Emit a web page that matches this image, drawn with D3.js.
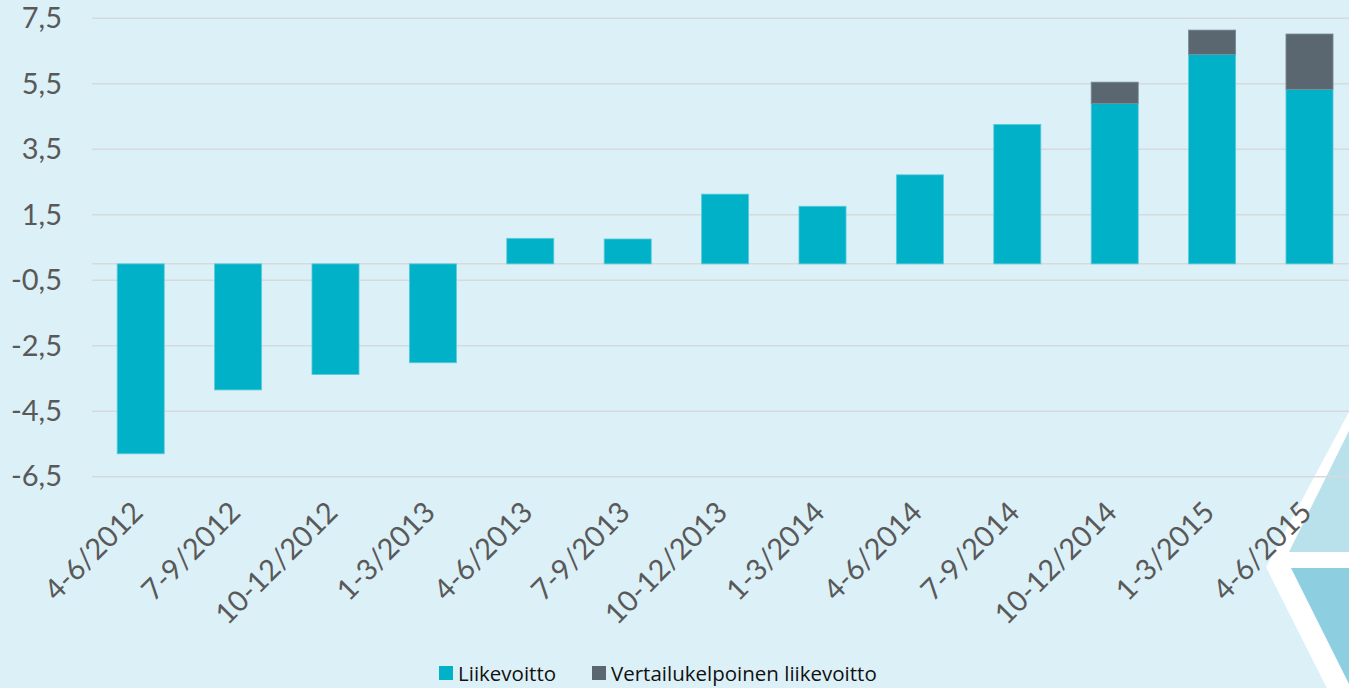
<!DOCTYPE html>
<html lang="fi">
<head>
    <meta charset="UTF-8">
    <title>Liikevoitto</title>
    <script src="https://d3js.org/d3.v7.min.js"></script>
    <style>
        * {
            margin: 0;
            padding: 0;
            box-sizing: border-box;
        }

        html, body {
            width: 1349px;
            height: 688px;
            overflow: hidden;
            background: #dcf0f7;
        }

        svg {
            display: block;
        }
    </style>
</head>
<body>
<svg id="chart" width="1349" height="688"></svg>
<script>
    const quarters = [ "4-6/2012", "7-9/2012", "10-12/2012", "1-3/2013", "4-6/2013", "7-9/2013",
        "10-12/2013", "1-3/2014", "4-6/2014", "7-9/2014", "10-12/2014", "1-3/2015", "4-6/2015" ]
    const liikevoitto = [ -5.80, -3.85, -3.38, -3.02, 0.78, 0.76, 2.13, 1.76, 2.72, 4.26, 4.90, 6.40, 5.33 ]
    // extra on top of liikevoitto -> vertailukelpoinen
    const vertailukelpoinen = [ 0, 0, 0, 0, 0, 0, 0, 0, 0, 0, 0.65, 0.74, 1.69 ]
    const yTicks = [ 7.5, 5.5, 3.5, 1.5, -0.5, -2.5, -4.5, -6.5 ]
    const seriesNames = [ "Liikevoitto", "Vertailukelpoinen liikevoitto" ]
    const colors = [ "#00b1c8", "#5a6770" ]

    const W = 1349, H = 688
    const left = 92, step = 97.4
    const svg = d3.select("#chart")

    // background decoration (bottom right corner)
    const deco = svg.append("g")
    deco.append("polygon")
        .attr("points", "1380,354 1266,567 1380,794")
        .attr("fill", "#ffffff")
    deco.append("polygon")
        .attr("points", "1380,368 1289,552 1380,552")
        .attr("fill", "#b9e1eb")
    deco.append("polygon")
        .attr("points", "1291,568 1380,568 1380,746")
        .attr("fill", "#8dcfe1")

    const x = d3.scaleBand()
        .domain(quarters)
        .range([ left, left + quarters.length * step ])
        .paddingInner(0.517)
        .paddingOuter(0.2585)

    const y = d3.scaleLinear()
        .domain([ -6.5, 7.5 ])
        .range([ 476.7, 18.3 ])

    // gridlines, plus the zero line
    svg.append("g")
        .selectAll("line")
        .data(yTicks.concat(0))
        .join("line")
        .attr("x1", left)
        .attr("x2", W)
        .attr("y1", d => y(d))
        .attr("y2", d => y(d))
        .attr("stroke", "#d6dadc")
        .attr("stroke-width", 1.5)

    const yAxis = svg.append("g")
        .attr("transform", `translate(62,0)`)
        .call(d3.axisLeft(y).tickValues(yTicks).tickSize(0).tickPadding(0)
            .tickFormat(d => d3.format(".1f")(d).replace(".", ",").replace("−", "-")))
    yAxis.select(".domain").remove()
    yAxis.selectAll("text")
        .attr("font-family", "Lato, 'Open Sans', sans-serif")
        .attr("font-size", 29)
        .attr("fill", "#595959")

    const rows = quarters.map((q, i) => ({ q, a: liikevoitto[i], b: vertailukelpoinen[i] }))

    // liikevoitto bars
    svg.append("g")
        .selectAll("rect")
        .data(rows)
        .join("rect")
        .attr("x", d => x(d.q))
        .attr("width", x.bandwidth())
        .attr("y", d => y(Math.max(0, d.a)))
        .attr("height", d => Math.abs(y(d.a) - y(0)))
        .attr("fill", colors[0])
        .attr("stroke", "#5ccbdb")
        .attr("stroke-width", 0.8)

    // stacked part
    svg.append("g")
        .selectAll("rect")
        .data(rows.filter(d => d.b > 0))
        .join("rect")
        .attr("x", d => x(d.q))
        .attr("width", x.bandwidth())
        .attr("y", d => y(d.a + d.b))
        .attr("height", d => y(d.a) - y(d.a + d.b))
        .attr("fill", colors[1])
        .attr("stroke", "#7a8a94")
        .attr("stroke-width", 0.8)

    // x labels, rotated
    svg.append("g")
        .selectAll("text")
        .data(quarters)
        .join("text")
        .attr("transform", d => `translate(${x(d) + x.bandwidth() / 2 + 4},${514}) rotate(-45)`)
        .attr("text-anchor", "end")
        .attr("font-family", "Lato, 'Open Sans', sans-serif")
        .attr("font-size", 29)
        .attr("fill", "#595959")
        .text(d => d)

    // legend
    const legendX = [ 439, 592 ]
    const legend = svg.append("g")
        .selectAll("g")
        .data(seriesNames)
        .join("g")
        .attr("transform", (_, i) => `translate(${legendX[i]},666)`)
    legend.append("rect")
        .attr("width", 14)
        .attr("height", 14)
        .attr("fill", (_, i) => colors[i])
    legend.append("text")
        .attr("x", 19)
        .attr("y", 15)
        .attr("font-family", "'Open Sans', sans-serif")
        .attr("font-size", 20.5)
        .attr("fill", "#111")
        .text(d => d)
</script>
</body>
</html>
